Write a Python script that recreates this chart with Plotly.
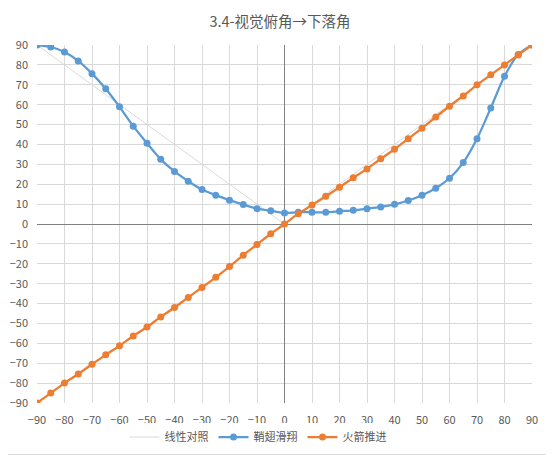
import plotly.graph_objects as go

# 视觉俯角 (x) 与下落角 (y)
angles = list(range(-90, 95, 5))

linear_x = [-90, 0, 90]
linear_y = [90, 0, 90]

glide_y = [
    90, 89, 86.5, 82, 75.6, 68, 58.9, 49.2, 40.6, 32.5, 26.4, 21.5, 17.3,
    14.5, 12, 9.8, 7.7, 6.7, 5.5, 5.9, 5.9, 5.9, 6.4, 6.9, 7.7, 8.6, 9.9,
    11.8, 14.5, 18, 23, 30.9, 42.9, 58.3, 74.3, 85.2, 90,
]

rocket_y = [
    -90, -85, -80, -75.4, -70.5, -65.8, -61.2, -56.3, -51.8, -46.7, -42,
    -36.9, -31.9, -26.8, -21.4, -15.7, -10.3, -4.9, 0, 5.2, 9.5, 13.9,
    18.5, 23.2, 27.7, 32.8, 37.6, 42.9, 48.2, 53.8, 59.2, 64.4, 70, 75,
    80, 85, 90,
]

tick_vals = list(range(-90, 100, 10))

FONT = "Noto Sans CJK SC, Liberation Sans, sans-serif"
GRID = "#d9d9d9"
TEXT = "#595959"

# page body adds an 8px offset, so margins are shifted to compensate
PLOT_W, PLOT_H = 495, 358
ML, MT = 29, 37

fig = go.Figure()
fig.add_trace(go.Scatter(
    x=linear_x, y=linear_y, name="线性对照", mode="lines",
    line={"color": "#d9d9d9", "width": 1},
))
fig.add_trace(go.Scatter(
    x=angles, y=glide_y, name="鞘翅滑翔", mode="lines+markers",
    line={"color": "#5b9bd5", "width": 2.25, "shape": "spline", "smoothing": 0.8},
    marker={"color": "#5b9bd5", "size": 7},
))
fig.add_trace(go.Scatter(
    x=angles, y=rocket_y, name="火箭推进", mode="lines+markers",
    line={"color": "#ed7d31", "width": 2.25, "shape": "spline", "smoothing": 0.8},
    marker={"color": "#ed7d31", "size": 7},
))

axis_common = dict(
    range=[-90, 90],
    tickvals=tick_vals,
    showgrid=True,
    gridcolor=GRID,
    gridwidth=1,
    zeroline=True,
    zerolinecolor="#808080",
    zerolinewidth=1,
    showline=False,
    ticks="",
    automargin=False,
    tickfont={"size": 11, "color": TEXT, "family": FONT},
)

fig.update_xaxes(**axis_common, ticklabelstandoff=9)
fig.update_yaxes(**axis_common, ticklabelstandoff=8)

fig.update_layout(
    width=554,
    height=455,
    paper_bgcolor="white",
    plot_bgcolor="white",
    font={"family": FONT, "color": TEXT},
    title={
        "text": "3.4-视觉俯角→下落角",
        "x": (272 - ML) / PLOT_W, "xanchor": "center",
        "xref": "paper", "yref": "container",
        "y": 1 - 14 / 455, "yanchor": "middle",
        "font": {"size": 14.5, "color": TEXT, "family": FONT},
    },
    margin={"l": ML, "r": 554 - ML - PLOT_W, "t": MT, "b": 455 - MT - PLOT_H,
            "autoexpand": False},
    showlegend=True,
    legend={
        "orientation": "h",
        "x": (250 - ML) / PLOT_W, "xanchor": "center",
        "y": -34 / PLOT_H, "yanchor": "middle",
        "font": {"size": 11, "color": TEXT, "family": FONT},
        "itemwidth": 30,
    },
    shapes=[{
        "type": "rect", "xref": "paper", "yref": "paper",
        "x0": -(ML + 7.5) / PLOT_W, "x1": (545.5 - ML) / PLOT_W,
        "y0": -(446.5 - MT - PLOT_H) / PLOT_H, "y1": 1 + (MT + 7.5) / PLOT_H,
        "line": {"color": "#d9d9d9", "width": 1},
        "layer": "below",
    }],
)

fig.write_html("out.html")
